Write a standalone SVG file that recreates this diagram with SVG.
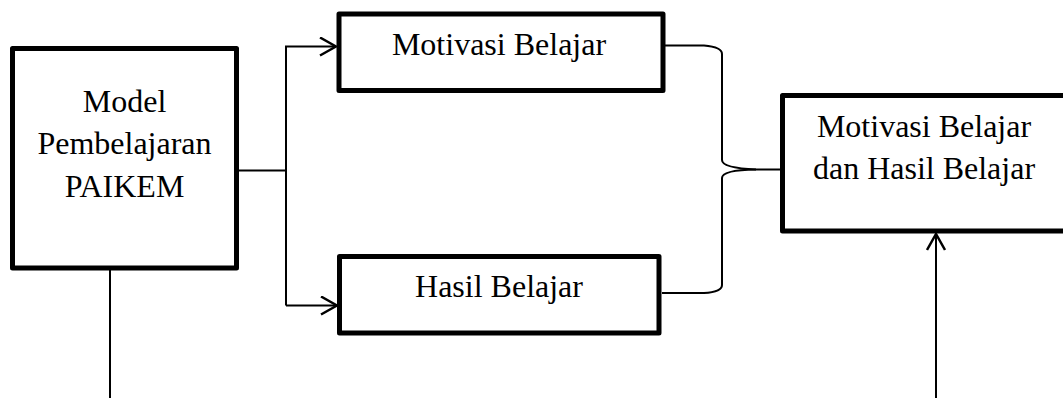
<svg xmlns="http://www.w3.org/2000/svg" width="1063" height="398" viewBox="0 0 1063 398">
  <style>
    .box { fill: #fff; stroke: #000; stroke-width: 5; stroke-linejoin: round; }
    .lbl { font-family: "Liberation Serif", "Times New Roman", serif; font-size: 32px; fill: #000; text-anchor: middle; }
    .conn { fill: none; stroke: #000; stroke-width: 2; }
  </style>
  <defs>
    <marker id="arrow" viewBox="0 0 20 20" refX="18" refY="10" markerWidth="20" markerHeight="20" markerUnits="userSpaceOnUse" orient="auto">
      <path d="M2,1 L18,10 L2,19" fill="none" stroke="#000" stroke-width="2.5"/>
    </marker>
  </defs>

  <g id="connectors">
    <line class="conn" x1="110" y1="268" x2="110" y2="398"/>
    <path class="conn" d="M236,170.5 H286"/>
    <path class="conn" d="M286,305.5 V46.5 H336" marker-end="url(#arrow)"/>
    <path class="conn" d="M286,305.5 H337" marker-end="url(#arrow)"/>
    <path class="conn" d="M665,45.5 H704 Q722,47 722,54 V160 Q722,168 756,169.5 H780"/>
    <path class="conn" d="M756,169.5 Q722,170 722,178 V285 Q722,292 704,293 H662"/>
    <path class="conn" d="M936,398 V234" marker-end="url(#arrow)"/>
  </g>

  <g id="node-model">
    <rect class="box" x="12.5" y="48.5" width="224" height="219.5"/>
    <text class="lbl" x="124.5" y="111.5">Model</text>
    <text class="lbl" x="124.5" y="153.5">Pembelajaran</text>
    <text class="lbl" x="124.5" y="196.5">PAIKEM</text>
  </g>

  <g id="node-motivasi">
    <rect class="box" x="339" y="14" width="324" height="76.5"/>
    <text class="lbl" x="499" y="55">Motivasi Belajar</text>
  </g>

  <g id="node-hasil">
    <rect class="box" x="339.5" y="256.5" width="319.5" height="76.5"/>
    <text class="lbl" x="499" y="296.5">Hasil Belajar</text>
  </g>

  <g id="node-gabungan">
    <rect class="box" x="782.5" y="95.5" width="290" height="135.5"/>
    <text class="lbl" x="924" y="136.5">Motivasi Belajar</text>
    <text class="lbl" x="924" y="179">dan Hasil Belajar</text>
  </g>
</svg>
